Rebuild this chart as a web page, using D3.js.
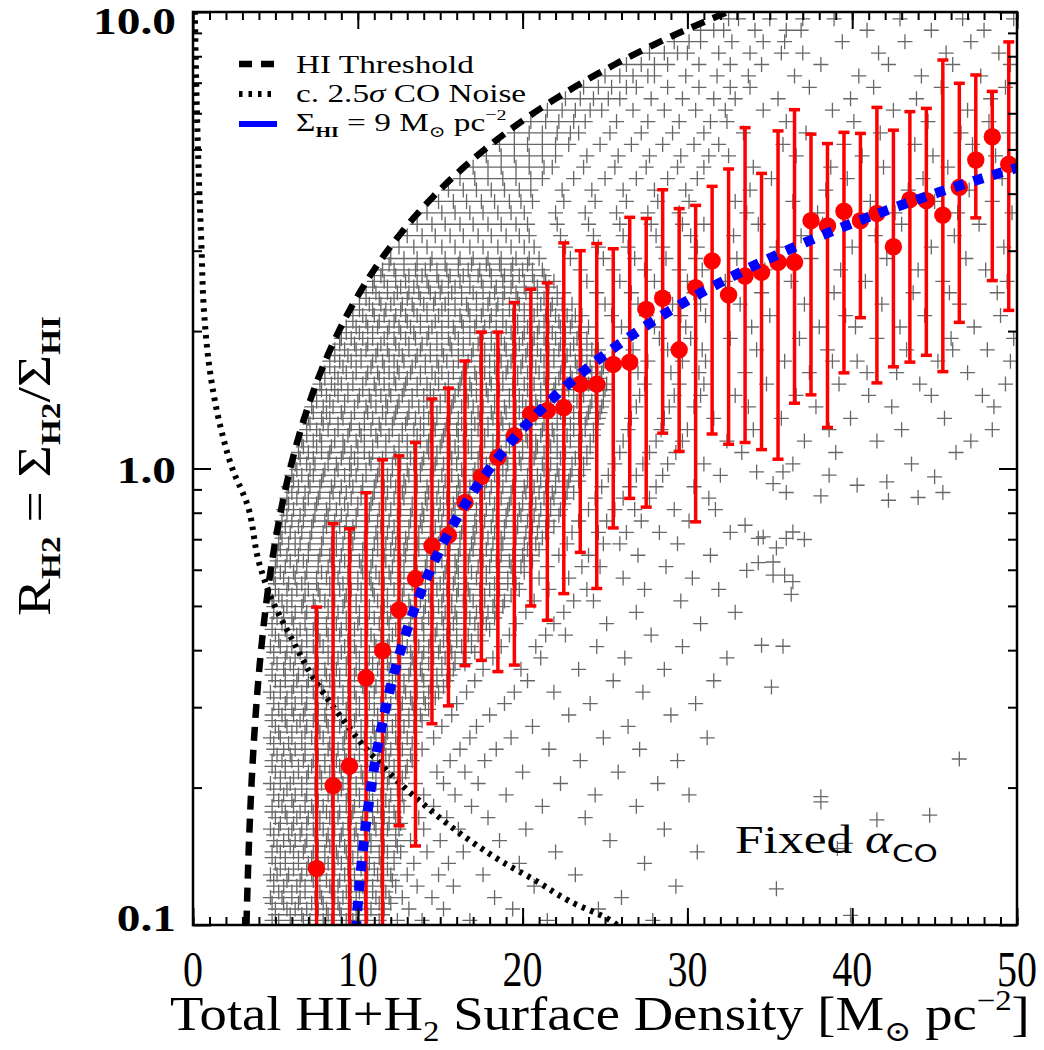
<!DOCTYPE html>
<html>
<head>
<meta charset="utf-8">
<script src="https://cdn.jsdelivr.net/npm/d3@7"></script>
<style>
  body { margin: 0; background: #fff; }
  svg { display: block; }
  text { font-family: "Liberation Serif", "DejaVu Serif", serif; fill: #000; }
</style>
</head>
<body>
<div id="chart"></div>
<script>
const width = 1044
const height = 1050

// binned medians (red) with their spread
const binSigma = [7.5,8.5,9.5,10.5,11.5,12.5,13.5,14.5,15.5,16.5,17.5,18.5,19.5,20.5,21.5,22.5,23.5,24.5,25.5,26.5,27.5,28.5,29.5,30.5,31.5,32.5,33.5,34.5,35.5,36.5,37.5,38.5,39.5,40.5,41.5,42.5,43.5,44.5,45.5,46.5,47.5,48.5,49.5]
const binMedian = [0.133,0.202,0.223,0.348,0.399,0.490,0.574,0.677,0.714,0.843,0.96,1.058,1.18,1.317,1.34,1.36,1.53,1.53,1.69,1.71,2.23,2.36,1.82,2.49,2.85,2.40,2.64,2.69,2.83,2.83,3.49,3.40,3.66,3.49,3.62,3.06,3.88,3.86,3.59,4.13,4.74,5.33,4.64]
const binUpper = [0.497,0.757,0.738,0.885,1.045,1.066,1.14,1.42,1.50,1.72,1.99,1.99,2.31,2.47,2.55,3.12,3.00,3.11,3.03,3.55,3.53,4.08,3.71,3.77,4.15,4.53,5.58,4.43,5.49,6.11,5.40,5.15,5.45,5.42,6.18,5.51,6.05,6.15,7.85,6.98,7.28,6.70,8.6]
const binLower = [0.05,0.05,0.05,0.05,0.05,0.165,0.149,0.276,0.302,0.37,0.38,0.359,0.371,0.50,0.465,0.532,0.655,0.546,0.741,0.86,0.823,1.195,1.09,0.764,1.19,1.13,1.14,1.10,1.048,1.39,1.45,1.23,1.62,2.14,1.54,1.67,1.71,1.77,1.63,2.09,3.54,2.58,2.22]

// individual lines of sight (gray crosses), grouped in rows of log10(R)
const rowLogR = [-0.99,-0.965,-0.94,-0.915,-0.89,-0.865,-0.84,-0.815,-0.79,-0.765,-0.74,-0.715,-0.69,-0.665,-0.64,-0.615,-0.59,-0.565,-0.54,-0.515,-0.49,-0.465,-0.44,-0.415,-0.39,-0.365,-0.34,-0.315,-0.29,-0.265,-0.24,-0.215,-0.19,-0.165,-0.14,-0.115,-0.09,-0.065,-0.04,-0.015,0.01,0.035,0.06,0.085,0.11,0.135,0.16,0.185,0.21,0.235,0.26,0.285,0.31,0.335,0.36,0.385,0.41,0.435,0.46,0.485,0.51,0.535,0.56,0.585,0.61,0.635,0.66,0.685,0.71,0.735,0.76,0.785,0.81,0.835,0.86,0.885,0.91,0.935,0.96,0.985]
const rowSigma = [
  [4.8,5.2,5.9,6.7,7.1,7.9,8.4,9.3,9.7,10.5,11.3,12.4,13.9,16.8,21.5,27.9],
  [5.0,5.7,6.2,6.9,7.6,8.1,8.9,9.5,10.1,10.8,11.6,13.1,15.2,19.4,24.6],
  [4.7,5.4,6.0,6.5,7.4,7.8,8.6,9.1,9.9,10.4,11.1,11.9,12.7,14.5,18.3,26.0],
  [4.9,5.5,6.3,6.8,7.5,8.3,8.8,9.6,10.3,10.9,11.5,12.3,13.6,15.8,20.7,29.3],
  [4.7,5.1,5.8,6.6,7.2,7.7,8.5,9.2,9.8,10.6,11.2,12.0,13.0,14.9,17.6,23.2],
  [5.0,5.6,6.4,7.0,7.6,8.2,9.0,9.4,10.2,10.7,11.4,12.2,13.4,15.5,19.8,27.4],
  [4.8,5.3,6.1,6.7,7.3,8.0,8.7,9.3,10.0,10.5,11.3,11.8,12.6,14.2,16.4,22.0,30.6],
  [4.9,5.5,6.2,6.9,7.5,8.1,8.9,9.5,10.0,10.8,11.5,12.3,13.2,15.0,18.6,25.3],
  [4.7,5.2,6.0,6.6,7.3,7.9,8.6,9.1,9.9,10.4,11.1,11.8,12.5,14.0,16.1,20.2,28.6],
  [5.0,5.7,6.3,7.0,7.7,8.3,8.8,9.6,10.3,10.9,11.6,12.3,13.7,15.4,17.9,23.8],
  [4.8,5.4,6.1,6.8,7.2,7.9,8.5,9.3,9.8,10.6,11.2,11.9,12.8,14.6,16.9,21.2,26.9],
  [4.9,5.5,6.2,6.9,7.5,8.2,8.8,9.4,10.1,10.7,11.4,12.0,12.7,14.0,15.9,19.0,24.4,30.1],
  [4.7,5.3,5.9,6.6,7.4,7.8,8.6,9.1,9.9,10.5,11.1,11.8,12.4,13.5,15.2,17.3,22.3,28.2],
  [5.0,5.6,6.4,7.0,7.7,8.3,9.0,9.6,10.2,10.9,11.6,12.2,12.9,14.8,16.5,20.0,25.8],
  [4.8,5.4,6.0,6.7,7.3,8.0,8.7,9.3,9.8,10.6,11.2,11.9,12.5,13.3,15.6,17.7,23.5,29.4],
  [4.9,5.5,6.2,6.8,7.5,8.2,8.8,9.5,10.1,10.8,11.3,12.0,12.7,13.9,16.2,18.4,21.6,27.1],
  [4.7,5.3,6.0,6.6,7.2,7.9,8.5,9.2,9.9,10.4,11.1,11.7,12.3,13.0,14.6,16.8,19.3,24.9,31.2],
  [5.0,5.7,6.3,6.9,7.6,8.2,8.9,9.6,10.2,10.9,11.5,12.1,12.8,13.4,15.1,17.2,20.6,26.4],
  [4.8,5.4,6.1,6.7,7.4,8.0,8.6,9.3,9.9,10.5,11.2,11.8,12.6,13.1,13.8,15.7,18.0,22.8,29.0],
  [4.9,5.6,6.2,6.9,7.5,8.1,8.8,9.4,10.1,10.7,11.4,12.0,12.7,13.3,14.1,16.0,18.9,24.1,30.5],
  [4.7,5.3,6.0,6.6,7.3,7.9,8.6,9.1,9.8,10.4,11.0,11.7,12.3,12.9,13.6,14.3,14.9,16.6,19.5,21.9,27.3],
  [5.0,5.6,6.3,7.0,7.6,8.3,8.9,9.5,10.2,10.8,11.5,12.1,12.8,13.5,14.0,14.8,15.4,17.1,20.3,25.5,31.6],
  [4.8,5.5,6.1,6.7,7.4,8.0,8.7,9.3,9.9,10.6,11.2,11.9,12.5,13.2,13.8,14.5,15.1,15.8,17.6,19.9,23.4,28.6],
  [4.9,5.6,6.2,6.9,7.5,8.2,8.8,9.4,10.1,10.7,11.3,12.0,12.6,13.3,13.9,14.6,15.3,15.9,16.4,18.2,21.1,26.2,32.4],
  [4.7,5.3,6.0,6.6,7.3,7.9,8.5,9.2,9.8,10.5,11.1,11.8,12.4,13.0,13.7,14.3,15.0,15.6,16.3,16.9,18.7,20.8,24.5,29.7],
  [5.0,5.7,6.3,6.9,7.6,8.2,8.9,9.5,10.2,10.8,11.4,12.1,12.7,13.4,14.0,14.7,15.4,16.0,16.7,17.3,19.2,21.4,22.6,27.8],
  [4.8,5.4,6.1,6.8,7.4,8.1,8.7,9.3,10.0,10.6,11.3,11.9,12.6,13.2,13.9,14.5,15.2,15.8,16.5,17.1,17.8,19.6,21.9,25.1,30.8],
  [4.9,5.5,6.2,6.9,7.5,8.2,8.8,9.5,10.1,10.7,11.4,12.0,12.7,13.3,14.0,14.6,15.3,15.9,16.6,17.2,17.9,18.4,20.2,22.5,26.9,32.9],
  [4.8,5.4,6.0,6.7,7.3,8.0,8.6,9.2,9.9,10.5,11.2,11.8,12.5,13.1,13.8,14.4,15.1,15.7,16.4,17.0,17.7,18.3,18.9,20.7,23.1,24.3,29.6],
  [5.0,5.7,6.3,7.0,7.6,8.3,8.9,9.6,10.2,10.9,11.5,12.2,12.8,13.5,14.1,14.8,15.4,16.1,16.7,17.4,18.0,18.6,19.8,21.6,23.9,27.4,31.9],
  [4.9,5.5,6.2,6.8,7.5,8.1,8.8,9.4,10.0,10.7,11.3,12.0,12.6,13.3,13.9,14.6,15.2,15.9,16.5,17.2,17.8,18.5,19.1,19.4,21.0,22.8,26.1,30.3],
  [5.0,5.6,6.3,6.9,7.6,8.2,8.9,9.5,10.2,10.8,11.5,12.1,12.8,13.4,14.1,14.7,15.4,16.0,16.7,17.3,18.0,18.6,19.3,19.9,21.5,23.6,24.7,28.7],
  [5.1,5.7,6.4,7.0,7.7,8.3,9.0,9.6,10.3,10.9,11.6,12.2,12.9,13.5,14.2,14.8,15.5,16.1,16.8,17.4,18.1,18.7,19.4,20.0,20.5,22.2,24.0,27.0,31.4],
  [5.2,5.8,6.5,7.1,7.8,8.4,9.1,9.7,10.4,11.0,11.7,12.3,13.0,13.6,14.3,14.9,15.6,16.2,16.9,17.5,18.2,18.8,19.5,20.1,20.8,22.7,24.9,25.9,29.4],
  [5.3,5.9,6.6,7.2,7.9,8.5,9.2,9.8,10.5,11.1,11.8,12.4,13.1,13.7,14.4,15.0,15.7,16.3,17.0,17.6,18.3,18.9,19.6,20.2,20.9,21.4,23.0,24.6,26.3,28.3,32.6],
  [5.4,6.0,6.7,7.3,8.0,8.6,9.3,9.9,10.6,11.2,11.9,12.5,13.2,13.8,14.5,15.1,15.8,16.4,17.1,17.7,18.4,19.0,19.7,20.3,21.0,21.6,23.4,25.1,27.2,30.1],
  [5.5,6.1,6.8,7.4,8.1,8.7,9.4,10.0,10.7,11.3,12.0,12.6,13.3,13.9,14.6,15.2,15.9,16.5,17.2,17.8,18.5,19.1,19.8,20.4,21.1,21.7,22.3,24.0,25.6,26.8,29.2,31.7],
  [5.7,6.3,7.0,7.6,8.3,8.9,9.6,10.2,10.9,11.5,12.2,12.8,13.5,14.1,14.8,15.4,16.1,16.7,17.4,18.0,18.7,19.3,20.0,20.6,21.3,21.9,22.6,24.4,26.1,27.7,31.3],
  [5.8,6.4,7.1,7.7,8.4,9.0,9.7,10.3,11.0,11.6,12.3,12.9,13.6,14.2,14.9,15.5,16.2,16.8,17.5,18.1,18.8,19.4,20.1,20.7,21.4,22.0,22.7,24.8,26.5,28.1,30.4],
  [6.0,6.6,7.3,7.9,8.6,9.2,9.9,10.5,11.2,11.8,12.5,13.1,13.8,14.4,15.1,15.7,16.4,17.0,17.7,18.3,19.0,19.6,20.3,20.9,21.6,22.2,22.9,23.4,25.2,26.9,28.5,32.0],
  [6.2,6.9,7.4,8.2,8.7,9.5,10.0,10.8,11.3,12.1,12.6,13.4,13.9,14.7,15.2,16.0,16.5,17.3,17.8,18.6,19.1,19.9,20.4,21.2,21.7,22.5,23.0,23.7,25.6,27.3,28.8,31.0,36.4,43.6],
  [6.4,7.0,7.8,8.3,9.1,9.6,10.4,10.9,11.7,12.2,13.0,13.5,14.3,14.8,15.6,16.1,16.9,17.4,18.2,18.7,19.5,20.0,20.8,21.3,22.1,22.6,23.4,23.9,25.9,27.7,29.3,33.3,39.0,46.3],
  [6.6,7.3,7.8,8.6,9.1,9.9,10.4,11.2,11.7,12.5,13.0,13.8,14.3,15.1,15.6,16.4,16.9,17.7,18.2,19.0,19.5,20.3,20.8,21.6,22.1,22.9,23.4,24.1,26.1,28.1,29.7,32.4,37.1,41.5,47.2],
  [6.9,7.5,8.2,8.8,9.5,10.1,10.8,11.4,12.1,12.7,13.4,14.0,14.7,15.3,16.0,16.6,17.3,17.9,18.6,19.2,19.9,20.5,21.2,21.8,22.5,23.1,23.8,24.3,26.4,28.4,30.0,34.0,38.6,43.0,48.5],
  [7.0,7.8,8.3,9.1,9.6,10.4,10.9,11.7,12.2,13.0,13.5,14.3,14.8,15.6,16.1,16.9,17.4,18.2,18.7,19.5,20.0,20.8,21.3,22.1,22.6,23.4,23.9,24.6,26.6,28.6,31.6,35.7,39.9,45.6],
  [7.2,7.9,8.5,9.2,9.8,10.5,11.1,11.8,12.4,13.1,13.7,14.4,15.0,15.7,16.3,17.0,17.6,18.3,18.9,19.6,20.2,20.9,21.5,22.2,22.8,23.5,24.1,24.8,26.9,28.9,30.4,33.7,37.8,42.4,48.6],
  [7.5,8.1,8.8,9.4,10.1,10.7,11.4,12.0,12.7,13.3,14.0,14.6,15.3,15.9,16.6,17.2,17.9,18.5,19.2,19.8,20.5,21.1,21.8,22.4,23.1,23.7,24.4,24.9,27.1,29.2,30.8,32.9,36.6,41.0,44.8,47.9],
  [7.7,8.4,9.0,9.7,10.3,11.0,11.6,12.3,12.9,13.6,14.2,14.9,15.5,16.2,16.8,17.5,18.1,18.8,19.4,20.1,20.7,21.4,22.0,22.7,23.3,24.0,24.6,25.1,27.4,29.5,31.0,34.8,39.2,44.1,49.3],
  [8.0,8.6,9.3,9.9,10.6,11.2,11.9,12.5,13.2,13.8,14.5,15.1,15.8,16.4,17.1,17.7,18.4,19.0,19.7,20.3,21.0,21.6,22.3,22.9,23.6,24.2,24.8,27.0,29.0,30.7,33.5,37.4,40.9,42.7,47.0],
  [8.3,8.9,9.6,10.2,10.9,11.5,12.2,12.8,13.5,14.1,14.8,15.4,16.1,16.7,17.4,18.0,18.7,19.3,20.0,20.6,21.3,21.9,22.6,23.2,23.9,24.5,25.0,27.6,29.7,31.1,35.9,38.8,40.3,45.2,49.6],
  [8.6,9.2,9.9,10.5,11.2,11.8,12.5,13.1,13.8,14.4,15.1,15.7,16.4,17.0,17.7,18.3,19.0,19.6,20.3,20.9,21.6,22.2,22.9,23.5,24.2,24.6,26.7,28.8,30.9,34.2,38.5,43.3,46.1,48.2],
  [9.0,9.6,10.3,10.9,11.6,12.2,12.9,13.5,14.2,14.8,15.5,16.1,16.8,17.4,18.1,18.7,19.4,20.0,20.7,21.3,22.0,22.6,23.3,23.9,24.5,26.5,28.3,30.2,32.6,36.8,41.5,46.0,49.8],
  [9.3,9.9,10.6,11.2,11.9,12.5,13.2,13.8,14.5,15.1,15.8,16.4,17.1,17.7,18.4,19.0,19.7,20.3,21.0,21.6,22.3,22.9,23.5,24.0,26.0,28.0,29.9,33.9,38.0,40.2,42.9,47.4],
  [9.7,10.3,11.0,11.6,12.3,12.9,13.6,14.2,14.9,15.5,16.2,16.8,17.5,18.1,18.8,19.4,20.1,20.7,21.4,22.0,22.7,23.2,23.6,25.4,27.5,29.6,31.1,35.0,39.6,44.4,49.0],
  [10.1,10.7,11.4,12.0,12.7,13.3,14.0,14.6,15.3,15.9,16.6,17.2,17.9,18.5,19.2,19.8,20.5,21.1,21.8,22.4,23.0,25.0,27.0,29.1,30.8,33.2,37.1,41.8,46.5],
  [10.5,11.1,11.8,12.4,13.1,13.7,14.4,15.0,15.7,16.3,17.0,17.6,18.3,18.9,19.6,20.2,20.9,21.5,22.1,22.5,24.5,26.6,28.5,30.4,34.5,38.9,43.7,45.9,48.8],
  [11.0,11.6,12.3,12.9,13.6,14.2,14.9,15.5,16.2,16.8,17.5,18.1,18.8,19.4,20.1,20.7,21.4,21.9,23.9,25.9,28.0,30.0,32.3,36.3,40.8,45.5,49.4],
  [11.5,12.2,12.8,13.5,14.1,14.8,15.4,16.1,16.7,17.4,18.0,18.7,19.3,20.0,20.6,21.2,23.5,25.5,27.4,29.5,30.9,34.7,39.3,44.0,48.1],
  [12.0,12.8,13.6,14.5,15.3,16.2,17.0,17.9,18.7,19.6,20.4,21.0,22.9,24.9,26.8,28.7,30.5,33.0,37.5,42.1,46.9],
  [12.5,13.4,14.2,15.1,15.9,16.8,17.6,18.5,19.3,20.1,20.7,22.6,24.6,26.4,28.5,30.6,35.4,40.0,44.8,49.2],
  [13.0,13.9,14.7,15.6,16.4,17.3,18.1,19.0,19.8,20.4,22.3,24.3,26.1,28.1,30.2,32.8,36.9,41.4,46.2],
  [13.6,14.5,15.3,16.2,17.0,17.9,18.7,19.6,20.3,22.1,24.0,25.9,27.8,29.7,31.0,34.3,38.2,43.0,47.7],
  [14.2,15.1,15.9,16.8,17.6,18.5,19.3,20.1,22.0,23.8,25.7,27.6,29.5,33.6,37.9,42.6,46.4,49.7],
  [14.9,15.8,16.6,17.5,18.3,19.2,19.9,20.6,22.5,24.4,26.3,28.2,30.1,32.9,36.4,41.1,45.0,48.5],
  [15.5,16.4,17.2,18.1,18.9,19.8,20.5,22.4,24.2,26.1,28.0,29.9,33.8,38.4,43.4,47.1],
  [16.2,17.1,17.9,18.8,19.6,20.5,21.2,23.1,25.0,26.9,28.8,30.6,35.1,39.7,44.3,49.1],
  [17.0,17.9,18.7,19.6,20.4,21.3,21.8,23.7,25.6,27.5,29.4,31.0,34.0,38.7,41.9,45.8],
  [17.8,18.7,19.5,20.4,21.2,22.0,23.9,25.8,27.7,29.6,31.3,32.5,36.6,40.6,44.9,48.7],
  [18.6,19.5,20.3,21.2,22.0,22.8,24.7,26.6,28.5,30.4,31.9,35.8,39.5,43.8,47.3],
  [19.5,20.4,21.2,22.1,22.9,23.4,25.3,27.2,29.1,31.0,33.4,37.2,41.7,46.6,49.5],
  [20.5,21.4,22.2,23.1,23.8,25.7,27.6,29.5,31.4,32.4,36.0,40.1,44.6,48.3],
  [21.5,22.4,23.2,24.1,24.8,26.7,28.6,30.5,32.3,34.6,38.8,42.5,47.0],
  [22.6,23.5,24.3,25.2,25.9,27.8,29.7,31.6,32.9,35.5,39.9,43.9,48.4],
  [23.7,24.6,25.4,26.3,26.9,28.8,30.7,32.6,33.8,37.4,41.3,45.4,49.3],
  [25.0,25.9,26.7,27.6,28.0,29.9,31.8,33.7,36.5,40.4,44.2,47.8],
  [26.3,27.2,28.0,28.8,30.7,32.6,34.5,38.1,42.2,46.1,49.6],
  [27.7,28.6,29.4,30.0,31.9,33.8,35.7,37.0,41.6,45.7,48.9],
  [29.2,30.1,30.8,32.7,34.6,35.9,39.4,43.2,47.2],
  [30.8,31.6,32.2,34.1,36.0,36.9,40.9,44.8,48.0],
  [32.5,33.1,35.0,37.0,38.9,42.9,46.7,49.8]
]
// the dense core has crosses between those rows as well
const rowLogR2 = [-0.9775,-0.9525,-0.9275,-0.9025,-0.8775,-0.8525,-0.8275,-0.8025,-0.7775,-0.7525,-0.7275,-0.7025,-0.6775,-0.6525,-0.6275,-0.6025,-0.5775,-0.5525,-0.5275,-0.5025,-0.4775,-0.4525,-0.4275,-0.4025,-0.3775,-0.3525,-0.3275,-0.3025,-0.2775,-0.2525,-0.2275,-0.2025,-0.1775,-0.1525,-0.1275,-0.1025,-0.0775,-0.0525,-0.0275,-0.0025,0.0225,0.0475,0.0725,0.0975,0.1225,0.1475,0.1725,0.1975,0.2225,0.2475,0.2725,0.2975,0.3225,0.3475,0.3725,0.3975,0.4225,0.4475]
const rowSigma2 = [
  [5.0,5.9,6.6,7.5,8.2,9.0,9.9,10.6,11.5],
  [4.8,5.5,6.4,7.2,7.9,8.8,9.6,10.4,11.3,12.0],
  [5.2,6.0,6.8,7.7,8.4,9.3,10.1,10.9,11.7],
  [4.9,5.7,6.5,7.3,8.1,8.9,9.8,10.5,11.4,12.1],
  [5.3,6.1,6.9,7.8,8.6,9.4,10.2,11.0,11.8],
  [4.8,5.6,6.4,7.2,8.0,8.8,9.7,10.5,11.3,12.2],
  [5.1,5.9,6.8,7.6,8.3,9.2,10.0,10.8,11.6,12.4],
  [4.9,5.8,6.5,7.4,8.2,9.0,9.8,10.7,11.4,12.3],
  [5.3,6.1,6.9,7.7,8.5,9.4,10.2,11.0,11.9,12.6],
  [4.8,5.6,6.5,7.3,8.1,8.9,9.7,10.6,11.4,12.2],
  [5.2,6.0,6.8,7.6,8.4,9.3,10.1,10.9,11.7,12.5],
  [4.9,5.7,6.6,7.4,8.2,9.0,9.9,10.7,11.5,12.4],
  [5.3,6.1,6.9,7.8,8.6,9.4,10.3,11.1,11.9,12.7],
  [4.8,5.6,6.4,7.2,8.0,8.9,9.7,10.5,11.4,12.2,13.0],
  [5.1,5.9,6.8,7.6,8.4,9.2,10.1,10.9,11.7,12.5,13.2],
  [4.9,5.8,6.6,7.4,8.3,9.1,9.9,10.8,11.6,12.4,13.3],
  [5.2,6.0,6.8,7.7,8.5,9.3,10.2,11.0,11.8,12.6,13.5],
  [4.8,5.6,6.5,7.3,8.1,9.0,9.8,10.6,11.5,12.3,13.1,13.9],
  [5.2,6.0,6.8,7.6,8.5,9.3,10.1,11.0,11.8,12.6,13.4,14.3],
  [4.9,5.7,6.6,7.4,8.2,9.1,9.9,10.7,11.5,12.4,13.2,14.0,14.7],
  [5.3,6.1,6.9,7.8,8.6,9.4,10.3,11.1,11.9,12.8,13.6,14.4,15.2],
  [4.8,5.6,6.4,7.3,8.1,8.9,9.8,10.6,11.4,12.3,13.1,13.9,14.8,15.6],
  [5.1,5.9,6.8,7.6,8.4,9.3,10.1,10.9,11.8,12.6,13.4,14.3,15.1,15.9,16.5],
  [4.9,5.7,6.5,7.4,8.2,9.0,9.9,10.7,11.5,12.4,13.2,14.0,14.9,15.7,16.5,17.1],
  [5.2,6.0,6.9,7.7,8.5,9.4,10.2,11.0,11.9,12.7,13.5,14.4,15.2,16.0,16.9,17.5],
  [4.8,5.6,6.5,7.3,8.1,9.0,9.8,10.6,11.5,12.3,13.1,14.0,14.8,15.6,16.5,17.3,18.0],
  [5.1,6.0,6.8,7.6,8.5,9.3,10.1,11.0,11.8,12.6,13.5,14.3,15.1,16.0,16.8,17.6,18.3],
  [4.9,5.7,6.6,7.4,8.2,9.1,9.9,10.7,11.6,12.4,13.2,14.1,14.9,15.7,16.6,17.4,18.2,18.8],
  [5.2,6.0,6.8,7.7,8.5,9.3,10.2,11.0,11.8,12.7,13.5,14.3,15.2,16.0,16.8,17.7,18.5,19.3],
  [5.0,5.8,6.6,7.5,8.3,9.1,10.0,10.8,11.6,12.5,13.3,14.1,15.0,15.8,16.6,17.5,18.3,19.1,19.6],
  [5.3,6.1,6.9,7.8,8.6,9.4,10.3,11.1,11.9,12.8,13.6,14.4,15.3,16.1,16.9,17.8,18.6,19.4,20.1],
  [5.1,5.9,6.7,7.6,8.4,9.2,10.1,10.9,11.7,12.6,13.4,14.2,15.1,15.9,16.7,17.6,18.4,19.2,20.1,20.6],
  [5.3,6.2,7.0,7.8,8.7,9.5,10.3,11.2,12.0,12.8,13.7,14.5,15.3,16.2,17.0,17.8,18.7,19.5,20.3,21.0],
  [5.4,6.2,7.1,7.9,8.7,9.6,10.4,11.2,12.1,12.9,13.7,14.6,15.4,16.2,17.1,17.9,18.7,19.6,20.4,21.2],
  [5.6,6.4,7.2,8.1,8.9,9.7,10.6,11.4,12.2,13.1,13.9,14.7,15.6,16.4,17.2,18.1,18.9,19.7,20.6,21.4,21.9],
  [5.7,6.5,7.4,8.2,9.0,9.9,10.7,11.5,12.4,13.2,14.0,14.9,15.7,16.5,17.4,18.2,19.0,19.9,20.7,21.5,22.2],
  [5.8,6.7,7.5,8.3,9.2,10.0,10.8,11.7,12.5,13.3,14.2,15.0,15.8,16.7,17.5,18.3,19.2,20.0,20.8,21.7,22.5],
  [6.0,6.8,7.7,8.5,9.3,10.2,11.0,11.8,12.7,13.5,14.3,15.2,16.0,16.8,17.7,18.5,19.3,20.2,21.0,21.8,22.7,23.1],
  [6.1,7.0,7.8,8.6,9.5,10.3,11.1,12.0,12.8,13.6,14.5,15.3,16.1,17.0,17.8,18.6,19.5,20.3,21.1,22.0,22.8,23.4],
  [6.3,7.1,8.0,8.8,9.6,10.5,11.3,12.1,13.0,13.8,14.6,15.5,16.3,17.1,18.0,18.8,19.6,20.5,21.3,22.1,23.0,23.7],
  [6.5,7.3,8.2,9.0,9.8,10.7,11.5,12.3,13.2,14.0,14.8,15.7,16.5,17.3,18.2,19.0,19.8,20.7,21.5,22.3,23.2,23.9],
  [6.7,7.5,8.4,9.2,10.0,10.9,11.7,12.5,13.4,14.2,15.0,15.9,16.7,17.5,18.4,19.2,20.0,20.9,21.7,22.5,23.4,24.1],
  [6.9,7.7,8.6,9.4,10.2,11.1,11.9,12.7,13.6,14.4,15.2,16.1,16.9,17.7,18.6,19.4,20.2,21.1,21.9,22.7,23.6,24.3],
  [7.1,7.9,8.8,9.6,10.4,11.3,12.1,12.9,13.8,14.6,15.4,16.3,17.1,17.9,18.8,19.6,20.4,21.3,22.1,22.9,23.8,24.5],
  [7.3,8.1,9.0,9.8,10.6,11.5,12.3,13.1,14.0,14.8,15.6,16.5,17.3,18.1,19.0,19.8,20.6,21.5,22.3,23.1,24.0,24.7],
  [7.5,8.3,9.2,10.0,10.8,11.7,12.5,13.3,14.2,15.0,15.8,16.7,17.5,18.3,19.2,20.0,20.8,21.7,22.5,23.3,24.2,24.9],
  [7.8,8.6,9.4,10.3,11.1,11.9,12.8,13.6,14.4,15.3,16.1,16.9,17.8,18.6,19.4,20.3,21.1,21.9,22.8,23.6,24.4,25.0],
  [8.0,8.8,9.7,10.5,11.3,12.2,13.0,13.8,14.7,15.5,16.3,17.2,18.0,18.8,19.7,20.5,21.3,22.2,23.0,23.8,24.7],
  [8.3,9.1,9.9,10.8,11.6,12.4,13.3,14.1,14.9,15.8,16.6,17.4,18.3,19.1,19.9,20.8,21.6,22.4,23.3,24.1,24.9],
  [8.6,9.4,10.2,11.1,11.9,12.7,13.6,14.4,15.2,16.1,16.9,17.7,18.6,19.4,20.2,21.1,21.9,22.7,23.6,24.4],
  [8.9,9.8,10.6,11.4,12.3,13.1,13.9,14.8,15.6,16.4,17.3,18.1,18.9,19.8,20.6,21.4,22.3,23.1,23.9],
  [9.3,10.1,10.9,11.8,12.6,13.4,14.3,15.1,15.9,16.8,17.6,18.4,19.3,20.1,20.9,21.8,22.6,23.4],
  [9.7,10.5,11.3,12.2,13.0,13.8,14.7,15.5,16.3,17.2,18.0,18.8,19.7,20.5,21.3,22.2,23.0],
  [10.1,10.9,11.7,12.6,13.4,14.2,15.1,15.9,16.7,17.6,18.4,19.2,20.1,20.9,21.7,22.5],
  [10.5,11.3,12.2,13.0,13.8,14.7,15.5,16.3,17.2,18.0,18.8,19.7,20.5,21.3,22.1],
  [10.9,11.8,12.6,13.4,14.3,15.1,15.9,16.8,17.6,18.4,19.3,20.1,20.9,21.6],
  [11.4,12.3,13.1,13.9,14.8,15.6,16.4,17.3,18.1,18.9,19.8,20.6,21.3],
  [11.9,12.8,13.6,14.4,15.3,16.1,16.9,17.8,18.6,19.4,20.3]
]
// scattered crosses in the lower right
const extraSigma = [35.1,34.5,35.8,46.5,38.1,38.1,41.5,44.7,39.1,39.6,35.4,39.9,36.3,36.4,35.9,35.2,33.6,34.3,35.2,34.3,34.6,35.4,36.0,36.4,37.1,33.5,34.2,35.8,35.2,36.0,38.1,38.6,40.3,42.1,42.2,44.0,45.0,45.5]
const extraR = [0.332,0.41,0.408,0.231,0.191,0.186,0.170,0.174,0.147,0.151,0.120,0.105,0.53,0.565,0.584,0.584,0.598,0.622,0.624,0.703,0.708,0.67,0.703,0.726,0.699,0.751,0.983,0.983,0.927,0.886,0.871,0.967,0.919,0.935,0.852,0.864,0.959,0.886]

// c. 2.5 sigma CO noise line
const noiseSigma = [0.1,0.24,0.36,0.51,0.67,1.1,1.7,2.43,3.24,4.05,4.85,5.87,7.32,8.9,10.5,13.35,16.6,18.7,20.8,22.8,25.4,26.0]
const noiseR = [10.5,6.0,4.3,3.08,2.2,1.57,1.22,0.99,0.846,0.614,0.51,0.432,0.347,0.288,0.2435,0.1925,0.155,0.138,0.125,0.113,0.102,0.098]

const hiThreshold = 2.95   // HI threshold, Msun/pc^2
const hiFixed = 9          // Sigma_HI = 9 Msun/pc^2

const xTicks = [0, 10, 20, 30, 40, 50]
const yTicks = [0.1, 1, 10]
const yTickLabels = ["0.1", "1.0", "10.0"]

const svg = d3.select("#chart")
              .append("svg")
              .attr("width", width)
              .attr("height", height)

const x = d3.scaleLinear().domain([0, 50]).range([193, 1017])
const y = d3.scaleLog().domain([0.1, 10]).range([925, 12])

svg.append("defs").append("clipPath")
   .attr("id", "clip")
   .append("rect")
   .attr("x", 193).attr("y", 12)
   .attr("width", 824).attr("height", 913)

const plot = svg.append("g").attr("clip-path", "url(#clip)")

// crosses
const scatter = []
rowLogR.forEach((lr, i) => rowSigma[i].forEach(s => scatter.push([s, Math.pow(10, lr)])))
rowLogR2.forEach((lr, i) => rowSigma2[i].forEach(s => scatter.push([s, Math.pow(10, lr)])))
extraSigma.forEach((s, i) => scatter.push([s, extraR[i]]))

plot.append("path")
    .attr("d", scatter.map(d => {
      const px = x(d[0]), py = y(d[1])
      return `M${px - 7.5},${py}h15M${px},${py - 7.5}v15`
    }).join(""))
    .attr("fill", "none")
    .attr("stroke", "#676767")
    .attr("stroke-width", 1.3)

// model lines
const rGrid = d3.range(-1.1, 1.06, 0.005).map(l => Math.pow(10, l))
const line = d3.line().x(d => x(d[0])).y(d => y(d[1]))

plot.append("path")
    .attr("d", line(rGrid.map(r => [hiThreshold * (1 + r), r])))
    .attr("fill", "none")
    .attr("stroke", "#000")
    .attr("stroke-width", 6.5)
    .attr("stroke-dasharray", "14,9")

plot.append("path")
    .attr("d", d3.line().x(d => x(d[0])).y(d => y(d[1])).curve(d3.curveMonotoneY)(noiseSigma.map((s, i) => [s, noiseR[i]])))
    .attr("fill", "none")
    .attr("stroke", "#000")
    .attr("stroke-width", 6)
    .attr("stroke-dasharray", "3.5,5.5")

// binned medians
const bins = plot.append("g")
bins.selectAll("line.bar")
    .data(binSigma)
    .enter()
    .append("line")
    .attr("x1", d => x(d)).attr("x2", d => x(d))
    .attr("y1", (d, i) => y(binLower[i]))
    .attr("y2", (d, i) => y(binUpper[i]))
    .attr("stroke", "red")
    .attr("stroke-width", 3.5)

bins.selectAll("line.capTop")
    .data(binSigma)
    .enter()
    .append("line")
    .attr("x1", d => x(d) - 5.5).attr("x2", d => x(d) + 5.5)
    .attr("y1", (d, i) => y(binUpper[i])).attr("y2", (d, i) => y(binUpper[i]))
    .attr("stroke", "red")
    .attr("stroke-width", 3.5)

bins.selectAll("line.capBot")
    .data(binSigma)
    .enter()
    .append("line")
    .attr("x1", d => x(d) - 5.5).attr("x2", d => x(d) + 5.5)
    .attr("y1", (d, i) => y(binLower[i])).attr("y2", (d, i) => y(binLower[i]))
    .attr("stroke", "red")
    .attr("stroke-width", 3.5)

bins.selectAll("circle")
    .data(binSigma)
    .enter()
    .append("circle")
    .attr("cx", d => x(d))
    .attr("cy", (d, i) => y(binMedian[i]))
    .attr("r", 8.7)
    .attr("fill", "red")

plot.append("path")
    .attr("d", line(rGrid.map(r => [hiFixed * (1 + r), r]).filter(d => d[0] <= 50.5)))
    .attr("fill", "none")
    .attr("stroke", "blue")
    .attr("stroke-width", 10)
    .attr("stroke-dasharray", "10,10")

// axes: inward ticks on all four sides
const minorX = d3.range(0, 51, 1)
const minorY = [0.2,0.3,0.4,0.5,0.6,0.7,0.8,0.9,2,3,4,5,6,7,8,9]
const axes = [
  [d3.axisBottom(x).tickValues(minorX).tickSize(-8), "translate(0,925)"],
  [d3.axisBottom(x).tickValues(xTicks).tickSize(-17), "translate(0,925)"],
  [d3.axisTop(x).tickValues(minorX).tickSize(-8), "translate(0,12)"],
  [d3.axisTop(x).tickValues(xTicks).tickSize(-17), "translate(0,12)"],
  [d3.axisLeft(y).tickValues(minorY).tickSize(-9), "translate(193,0)"],
  [d3.axisLeft(y).tickValues(yTicks).tickSize(-18), "translate(193,0)"],
  [d3.axisRight(y).tickValues(minorY).tickSize(-9), "translate(1017,0)"],
  [d3.axisRight(y).tickValues(yTicks).tickSize(-18), "translate(1017,0)"]
]
axes.forEach(a => {
  const g = svg.append("g").attr("transform", a[1]).call(a[0].tickFormat(""))
  g.select(".domain").remove()
  g.selectAll("line").attr("stroke", "#000").attr("stroke-width", 2)
})

svg.append("rect")
   .attr("x", 193).attr("y", 12)
   .attr("width", 824).attr("height", 913)
   .attr("fill", "none")
   .attr("stroke", "#000")
   .attr("stroke-width", 2.5)

// text helpers
function richText(parent, runs, size) {
  const t = parent.append("text").attr("font-size", size)
  let shift = 0
  runs.forEach(r => {
    const target = r.sub ? size * 0.22 : r.sup ? -size * 0.42 : 0
    const ts = t.append("tspan")
                .attr("dy", target - shift)
                .attr("font-size", (r.sub || r.sup) ? size * 0.6 : size)
                .text(r.t)
    if (r.family) ts.style("font-family", r.family)
    if (r.style) ts.style("font-style", r.style)
    if (r.weight) ts.style("font-weight", r.weight)
    shift = target
  })
  return t
}
function fitWidth(t, w) {
  const bw = t.node().getBBox().width
  t.attr("transform", `scale(${w / bw},1)`)
  return w / bw
}

// tick labels
xTicks.forEach(v => {
  svg.append("text")
     .attr("transform", `translate(${x(v)},986) scale(0.8,1)`)
     .attr("text-anchor", "middle")
     .attr("font-size", 50)
     .text(v)
})
const yLabelTexts = yTicks.map((v, i) =>
  svg.append("g")
     .attr("transform", `translate(176,${Math.min(Math.max(y(v) + 14, 34), 931)})`)
     .append("text")
     .attr("text-anchor", "end")
     .attr("font-size", 38)
     .attr("font-weight", "bold")
     .text(yTickLabels[i]))
const ySx = 83 / yLabelTexts[2].node().getBBox().width
yLabelTexts.forEach(t => t.attr("transform", `scale(${ySx},1)`))

// axis titles
const xTitle = richText(svg.append("g").attr("transform", "translate(170,1030)"), [
  {t: "Total HI+H"}, {t: "2", sub: true}, {t: " Surface Density [M"}, {t: "\u2299", sub: true},
  {t: " pc"}, {t: "\u22122", sup: true}, {t: "]"}
], 48)
fitWidth(xTitle, 860)

const yTitleG = svg.append("g").attr("transform", "translate(50,466) rotate(-90)")
const yTitle = richText(yTitleG, [
  {t: "R"}, {t: "H2", sub: true, weight: "bold"}, {t: " = "}, {t: "\u03A3"}, {t: "H2", sub: true, weight: "bold"},
  {t: "/"}, {t: "\u03A3"}, {t: "HI", sub: true, weight: "bold"}
], 46)
const yw = yTitle.node().getBBox().width
yTitle.attr("transform", `scale(${300 / yw},1) translate(${-yw / 2},0)`)

// legend
const legend = svg.append("g")
legend.append("line").attr("x1", 239).attr("x2", 275).attr("y1", 64).attr("y2", 64)
      .attr("stroke", "#000").attr("stroke-width", 6.5).attr("stroke-dasharray", "13,9")
legend.append("line").attr("x1", 239).attr("x2", 276).attr("y1", 94).attr("y2", 94)
      .attr("stroke", "#000").attr("stroke-width", 6).attr("stroke-dasharray", "3.5,6")
legend.append("line").attr("x1", 239).attr("x2", 277).attr("y1", 124).attr("y2", 124)
      .attr("stroke", "blue").attr("stroke-width", 6)

const l1 = richText(legend.append("g").attr("transform", "translate(296,73)"), [{t: "HI Threshold"}], 26)
const lsx = fitWidth(l1, 178)
const l2 = richText(legend.append("g").attr("transform", "translate(296,102)"), [
  {t: "c. 2.5"}, {t: "\u03C3", style: "italic"}, {t: " CO Noise"}
], 26)
l2.attr("transform", `scale(${lsx},1)`)
const l3 = richText(legend.append("g").attr("transform", "translate(296,131)"), [
  {t: "\u03A3"}, {t: "HI", sub: true, weight: "bold"}, {t: " = 9 M"}, {t: "\u2299", sub: true},
  {t: " pc"}, {t: "\u22122", sup: true}
], 26)
l3.attr("transform", `scale(${lsx},1)`)

// panel label
const fixed = richText(svg.append("g").attr("transform", "translate(735,853)"), [
  {t: "Fixed "}, {t: "\u03B1", style: "italic"}, {t: "CO", sub: true, family: "DejaVu Sans"}
], 40)
fitWidth(fixed, 203)
</script>
</body>
</html>
